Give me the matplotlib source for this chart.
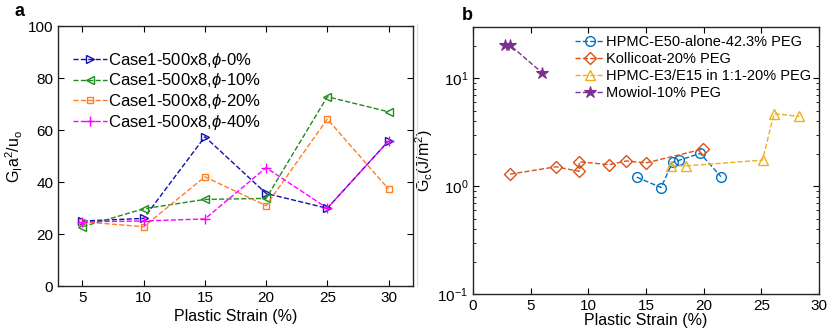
import numpy as np
import matplotlib
matplotlib.use("Agg")
import matplotlib.pyplot as plt
from matplotlib.lines import Line2D
from matplotlib.ticker import LogLocator, NullFormatter

plt.rcParams['font.family'] = ['Liberation Sans', 'DejaVu Sans']
plt.rcParams['mathtext.fontset'] = 'custom'
plt.rcParams['mathtext.rm'] = 'Liberation Sans'
plt.rcParams['mathtext.it'] = 'Liberation Sans:italic'

# panel a data
strain_a = [5, 10, 15, 20, 25, 30]
phi0 = [25.0, 26.0, 57.4, 35.6, 29.9, 55.8]
phi10 = [22.8, 29.7, 33.3, 33.7, 72.8, 67.0]
phi20 = [24.7, 22.8, 42.0, 30.9, 64.2, 37.3]
phi40 = [24.7, 25.0, 25.8, 45.5, 29.9, 55.8]

# panel b data
hpmc_x = [14.2, 16.3, 17.3, 17.9, 19.7, 21.5]
hpmc_y = [1.21, 0.97, 1.66, 1.74, 2.01, 1.22]
koll_x = [3.2, 7.2, 9.2, 9.2, 11.8, 13.3, 15.0, 19.9]
koll_y = [1.29, 1.51, 1.37, 1.68, 1.58, 1.71, 1.64, 2.2]
e3_x = [17.2, 18.5, 25.1, 26.1, 28.3]
e3_y = [1.54, 1.54, 1.74, 4.69, 4.43]
mow_x = [2.8, 3.2, 6.0]
mow_y = [20.3, 20.3, 11.2]

fig = plt.figure(figsize=(8.31, 3.36), dpi=100)

# ---- panel a
ax1 = fig.add_axes([0.0698, 0.1488, 0.4272, 0.7738])
kw = dict(linestyle='--', linewidth=1.0, markersize=6, markerfacecolor='none', markeredgewidth=1.0)
ax1.plot(strain_a, phi0, marker='>', color='#1010b0', label=r'Case1-500x8,$\phi$-0%', **kw)
ax1.plot(strain_a, phi10, marker='<', color='#1e8c1e', label=r'Case1-500x8,$\phi$-10%', **kw)
ax1.plot(strain_a, phi20, marker='s', color='#ff7f27', label=r'Case1-500x8,$\phi$-20%',
         linestyle='--', linewidth=1.0, markersize=5, markerfacecolor='none', markeredgewidth=1.0)
ax1.plot(strain_a, phi40, marker='+', color='#ff00ff', label=r'Case1-500x8,$\phi$-40%',
         linestyle='--', linewidth=1.0, markersize=7, markeredgewidth=1.0)
ax1.set_xlim(3, 32)
ax1.set_ylim(0, 100)
ax1.set_xticks([5, 10, 15, 20, 25, 30])
ax1.set_yticks([0, 20, 40, 60, 80, 100])
ax1.set_xlabel('Plastic Strain (%)', fontsize=11.5, labelpad=3)
ax1.set_ylabel(r'$\mathrm{G_Ia^2/u_o}$', fontsize=11.5, labelpad=2)
ax1.tick_params(direction='in', top=True, right=True, labelsize=11, length=4, width=0.8)
ax1.legend(loc='upper left', frameon=False, fontsize=12, handlelength=2.0,
           handletextpad=0.1, labelspacing=0.1, borderaxespad=0.3, bbox_to_anchor=(0.01, 0.95))
for s in ax1.spines.values():
    s.set_linewidth(1.0)
    s.set_color('#262626')

# ---- panel b
ax2 = fig.add_axes([0.5692, 0.125, 0.4164, 0.7955])
kw2 = dict(linestyle='--', linewidth=1.0, markersize=7, markerfacecolor='none', markeredgewidth=1.0)
ax2.plot(hpmc_x, hpmc_y, marker='o', color='#0072BD', label='HPMC-E50-alone-42.3% PEG', **kw2)
ax2.plot(koll_x, koll_y, marker='D', color='#D95319', label='Kollicoat-20% PEG',
         linestyle='--', linewidth=1.0, markersize=6, markerfacecolor='none', markeredgewidth=1.0)
ax2.plot(e3_x, e3_y, marker='^', color='#EDB120', label='HPMC-E3/E15 in 1:1-20% PEG', **kw2)
ax2.plot(mow_x, mow_y, marker='*', color='#7E2F8E', label='Mowiol-10% PEG',
         linestyle='--', linewidth=1.0, markersize=9, markeredgewidth=0.8)
ax2.set_yscale('log')
ax2.set_xlim(0, 30)
ax2.set_ylim(0.1, 30)
ax2.set_xticks([0, 5, 10, 15, 20, 25, 30])
ax2.yaxis.set_major_locator(LogLocator(base=10, numticks=5))
ax2.yaxis.set_minor_locator(LogLocator(base=10, subs=np.arange(2, 10), numticks=20))
ax2.yaxis.set_minor_formatter(NullFormatter())
ax2.set_xlabel('Plastic Strain (%)', fontsize=11.5, labelpad=0)
ax2.set_ylabel(r'$\mathrm{G_c(J/m^2)}$', fontsize=11.5, labelpad=2)
ax2.tick_params(which='major', direction='in', top=True, right=True, labelsize=11, length=4, width=0.8)
ax2.tick_params(which='minor', direction='in', top=True, right=True, length=2, width=0.6)
ax2.legend(loc='upper left', frameon=False, fontsize=10.5, handlelength=2.0,
           handletextpad=0.1, labelspacing=0.2, borderaxespad=0.2, bbox_to_anchor=(0.27, 1.0))
for s in ax2.spines.values():
    s.set_linewidth(1.0)
    s.set_color('#262626')

# panel letters
fig.text(0.018, 0.965, 'a', fontsize=13, fontweight='bold', va='center', ha='left')
fig.text(0.556, 0.955, 'b', fontsize=13, fontweight='bold', va='center', ha='left')

# faint separator line
fig.add_artist(Line2D([0.502, 0.502], [0.15, 0.93], color='#dddddd', linewidth=0.8))

fig.savefig('out.png', dpi=100)
